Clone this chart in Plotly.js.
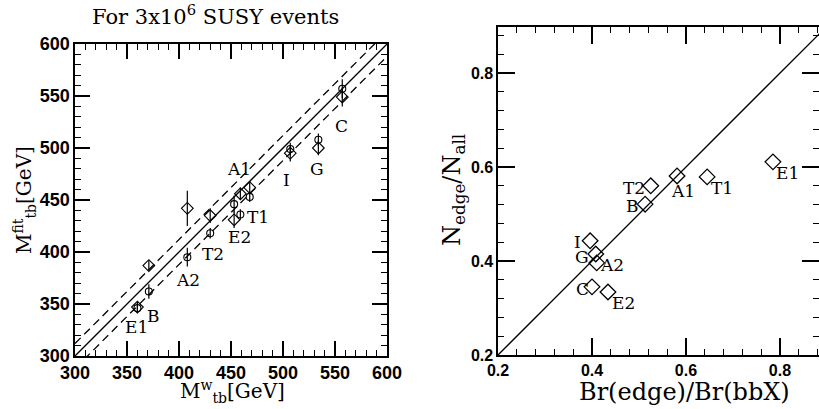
<!DOCTYPE html>
<html>
<head>
<meta charset="utf-8">
<script src="https://cdn.plot.ly/plotly-3.0.1.min.js"></script>
<style>html,body{margin:0;padding:0;background:#fff;}#chart{width:819px;height:409px;}</style>
</head>
<body>
<div id="chart"></div>
<script>
// ---------- Left panel data: M_tb^w vs M_tb^fit ----------
var mW        = [360, 371, 408, 430, 453, 459, 468, 507, 534, 557];
var fitDiam   = [347, 387, 442, 435, 431, 456, 462, 495, 500, 549];
var errDiam   = [5,   5,   17,  7,   8,   6,   6,   8,   7,   9];
var fitCirc   = [346, 362, 395, 418, 446, 436, 453, 499, 508, 557];
var errCirc   = [5,   7,   9,   5,   8,   5,   5,   6,   6,   9];
var leftLabels  = ["E1", "B", "A2", "T2", "E2", "T1", "A1", "I", "G", "C"];
var leftLabelX  = [359.6, 375, 408.7, 432.7, 457.7, 476, 457.7, 503.8, 532.7, 556.7];
var leftLabelY  = [328, 338.6, 373, 398.4, 414.8, 434, 479.4, 469.7, 479.4, 520.8];
var diagX = [300, 600];
var bandHalfWidth = 12;

// ---------- Right panel data: Br(edge)/Br(bbX) vs N_edge/N_all ----------
var models = ["I", "G", "A2", "C", "E2", "B", "T2", "A1", "T1", "E1"];
var brRatio = [0.396, 0.408, 0.410, 0.400, 0.434, 0.513, 0.525, 0.581, 0.645, 0.785];
var nRatio  = [0.443, 0.415, 0.396, 0.345, 0.334, 0.521, 0.560, 0.581, 0.579, 0.611];
var rightLabelX = [0.370, 0.379, 0.4426, 0.379, 0.466, 0.487, 0.489, 0.594, 0.677, 0.815];
var rightLabelY = [0.440, 0.4085, 0.3915, 0.340, 0.311, 0.517, 0.555, 0.549, 0.555, 0.587];
var diag2 = [0.2, 0.9];

var serif = "DejaVu Serif";
var tickFontL = {family: "Liberation Sans", size: 18, color: "#000", weight: "bold"};
var tickFontR = {family: "Liberation Sans", size: 16, color: "#000", weight: "bold"};

var traces = [
  {x: diagX, y: diagX, mode: "lines", line: {color: "#000", width: 1.3}, xaxis: "x", yaxis: "y", hoverinfo: "skip"},
  {x: diagX, y: diagX.map(function(v){return v + bandHalfWidth;}), mode: "lines",
   line: {color: "#000", width: 1.3, dash: "8px,5px"}, xaxis: "x", yaxis: "y"},
  {x: diagX, y: diagX.map(function(v){return v - bandHalfWidth;}), mode: "lines",
   line: {color: "#000", width: 1.3, dash: "8px,5px"}, xaxis: "x", yaxis: "y"},
  {x: mW, y: fitDiam, mode: "markers", xaxis: "x", yaxis: "y",
   marker: {symbol: "diamond-open", size: 9, color: "#000", line: {width: 1.1, color: "#000"}},
   error_y: {type: "data", array: errDiam, visible: true, width: 0, thickness: 1.2, color: "#000"}},
  {x: mW, y: fitCirc, mode: "markers", xaxis: "x", yaxis: "y",
   marker: {symbol: "circle-open", size: 7, color: "#000", line: {width: 1.1, color: "#000"}},
   error_y: {type: "data", array: errCirc, visible: true, width: 0, thickness: 1.2, color: "#000"}},
  {x: diag2, y: diag2, mode: "lines", line: {color: "#000", width: 1.3}, xaxis: "x2", yaxis: "y2"},
  {x: brRatio, y: nRatio, mode: "markers", xaxis: "x2", yaxis: "y2",
   marker: {symbol: "diamond-open", size: 12, color: "#000", line: {width: 1.3, color: "#000"}}}
];

var annotations = [];
leftLabels.forEach(function(t, i){
  annotations.push({x: leftLabelX[i], y: leftLabelY[i], xref: "x", yref: "y", text: t, showarrow: false,
    xanchor: "center", yanchor: "middle", font: {family: serif, size: 17, color: "#000"}});
});
models.forEach(function(t, i){
  annotations.push({x: rightLabelX[i], y: rightLabelY[i], xref: "x2", yref: "y2", text: t, showarrow: false,
    xanchor: "center", yanchor: "middle", font: {family: serif, size: 17, color: "#000"}});
});
function paperNote(px, py, text, size, angle){
  var a = {xref: "paper", yref: "paper", x: px/819, y: 1 - py/409, text: text, showarrow: false,
    xanchor: "center", yanchor: "middle", font: {family: serif, size: size, color: "#000"}};
  if (angle) a.textangle = angle;
  annotations.push(a);
}
paperNote(215, 15, "For 3x10<sup>6</sup> SUSY events", 21);
paperNote(232, 391, "M<sup>w</sup><sub>tb</sub>[GeV]", 20);
paperNote(24, 200, "M<sup>fit</sup><sub>tb</sub>[GeV]", 20, -90);
paperNote(684, 392, "Br(edge)/Br(bbX)", 24);
paperNote(453, 190, "N<sub>edge</sub>/N<sub>all</sub>", 24, -90);

function axisBase(extra){
  var a = {showgrid: false, zeroline: false, showline: true, linecolor: "#000", linewidth: 1.6,
    mirror: "allticks", ticks: "inside", tickcolor: "#000", tickwidth: 1.3,
    automargin: false, fixedrange: true};
  for (var k in extra) a[k] = extra[k];
  return a;
}

var layout = {
  width: 819, height: 409, showlegend: false,
  margin: {l: 0, r: 0, t: 0, b: 0},
  paper_bgcolor: "#fff", plot_bgcolor: "#fff",
  xaxis: axisBase({domain: [75/819, 387/819], range: [300, 600], tickvals: [300,350,400,450,500,550,600], tickfont: tickFontL,
    ticklen: 15, minor: {dtick: 10, tick0: 300, ticks: "inside", ticklen: 6, tickcolor: "#000", tickwidth: 1.2}, anchor: "y"}),
  yaxis: axisBase({domain: [1 - 356/409, 1 - 44/409], range: [300, 600], tickvals: [300,350,400,450,500,550,600], tickfont: tickFontL,
    ticklen: 15, minor: {dtick: 10, tick0: 300, ticks: "inside", ticklen: 6, tickcolor: "#000", tickwidth: 1.2}, anchor: "x"}),
  xaxis2: axisBase({domain: [498/819, 1], range: [0.2, 0.883], tickvals: [0.2,0.4,0.6,0.8], ticktext: ["0.2","0.4","0.6","0.8"], tickfont: tickFontR,
    ticklen: 17, minor: {dtick: 0.04, tick0: 0.2, ticks: "inside", ticklen: 6, tickcolor: "#000", tickwidth: 1.2}, anchor: "y2"}),
  yaxis2: axisBase({domain: [1 - 355/409, 1 - 27/409], range: [0.2, 0.898], tickvals: [0.2,0.4,0.6,0.8], ticktext: ["0.2","0.4","0.6","0.8"], tickfont: tickFontR,
    ticklen: 17, minor: {dtick: 0.04, tick0: 0.2, ticks: "inside", ticklen: 6, tickcolor: "#000", tickwidth: 1.2}, anchor: "x2"}),
  annotations: annotations
};

Plotly.newPlot("chart", traces, layout, {staticPlot: true, displayModeBar: false});
</script>
</body>
</html>
